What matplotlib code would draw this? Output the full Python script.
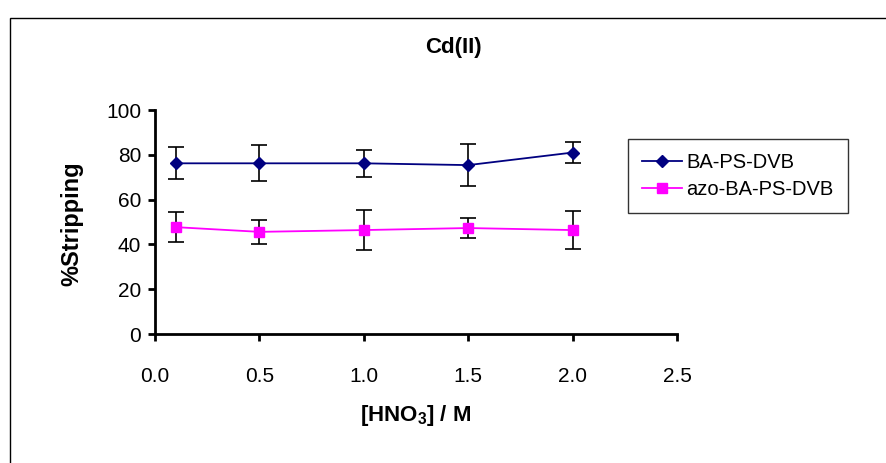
import matplotlib
matplotlib.use("Agg")
import matplotlib.pyplot as plt
from matplotlib.patches import Rectangle

plt.rcParams['font.family'] = ['Liberation Sans', 'DejaVu Sans']
plt.rcParams['mathtext.fontset'] = 'custom'
plt.rcParams['mathtext.rm'] = 'Liberation Sans'
plt.rcParams['mathtext.bf'] = 'Liberation Sans:bold'

x = [0.1, 0.5, 1.0, 1.5, 2.0]
ba = [76.2, 76.2, 76.2, 75.4, 81.0]
ba_err = [7.2, 8.0, 6.0, 9.2, 4.5]
azo = [47.7, 45.6, 46.4, 47.3, 46.4]
azo_err = [6.7, 5.2, 9.0, 4.5, 8.3]
series_names = ["BA-PS-DVB", "azo-BA-PS-DVB"]
xticks = [0.0, 0.5, 1.0, 1.5, 2.0, 2.5]
yticks = [0, 20, 40, 60, 80, 100]

fig = plt.figure(figsize=(8.87, 4.63), dpi=100)
# outer chart frame (cut off at right and bottom)
fig.patches.append(Rectangle((10/887, -0.1), 1.2, 1 - 18/463 + 0.1,
                             transform=fig.transFigure, fill=False,
                             edgecolor='black', lw=1.0))

ax = fig.add_axes([155/887, 1 - 334/463, 522/887, 224/463])
ax.errorbar(x, ba, yerr=ba_err, color='#000080', marker='D', markersize=6,
            lw=1.3, ecolor='black', elinewidth=1.2, capsize=6, capthick=1.2,
            label=series_names[0], zorder=3)
ax.errorbar(x, azo, yerr=azo_err, color='#FF00FF', marker='s', markersize=7,
            lw=1.3, ecolor='black', elinewidth=1.2, capsize=6, capthick=1.2,
            label=series_names[1], zorder=3)

ax.set_xlim(0, 2.5)
ax.set_ylim(0, 100)
ax.set_xticks(xticks)
ax.set_xticklabels([f"{v:.1f}" for v in xticks])
ax.set_yticks(yticks)
for s in ['top', 'right']:
    ax.spines[s].set_visible(False)
for s in ['left', 'bottom']:
    ax.spines[s].set_linewidth(2)
ax.tick_params(direction='out', length=5, width=2, labelsize=15, pad=5)
ax.tick_params(axis='x', pad=19)

fig.text(416/887, 1 - 415/463, "[HNO$_\\mathbf{3}$] / M", fontsize=16,
         fontweight='bold', ha='center', va='center')
fig.text(72/887, 1 - 224/463, "%Stripping", fontsize=17, fontweight='bold',
         rotation=90, ha='center', va='center')
fig.text(453/887, 1 - 47/463, "Cd(II)", fontsize=16, fontweight='bold',
         ha='center', va='center')

handles = [h[0] for h in ax.get_legend_handles_labels()[0]]
leg = fig.legend(handles=handles, labels=series_names,
                 loc='upper left', bbox_to_anchor=(628/887, 1 - 139/463),
                 frameon=True, fancybox=False, edgecolor='black',
                 fontsize=14.5, handlelength=2.0, borderpad=0.7,
                 labelspacing=0.4, handletextpad=0.2, borderaxespad=0.0)
leg.get_frame().set_linewidth(1.0)

fig.savefig("out.png", dpi=100)
